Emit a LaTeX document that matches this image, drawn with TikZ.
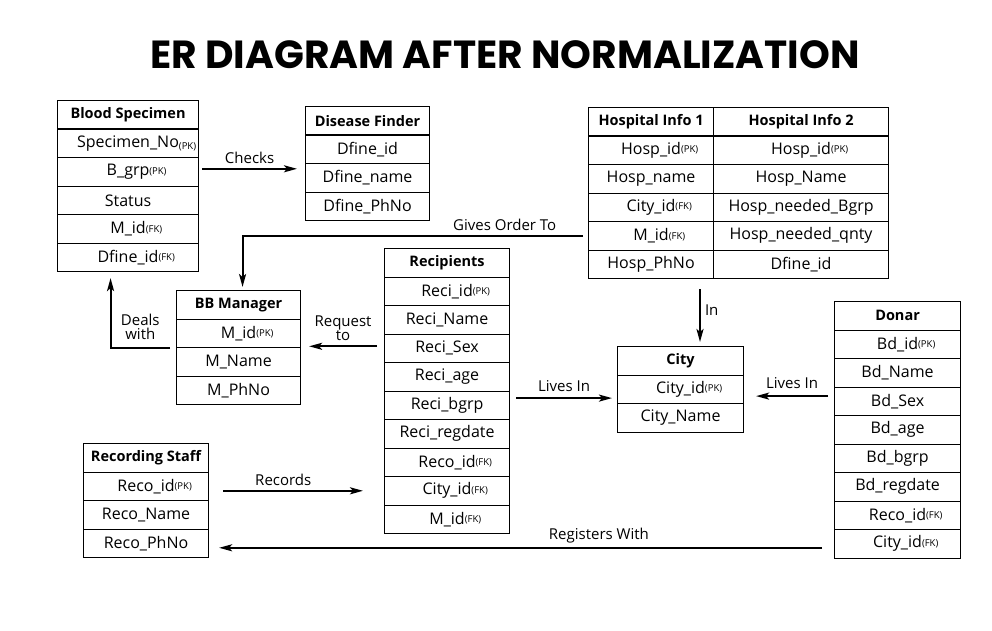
\documentclass[tikz,border=0pt]{standalone}
\usepackage{fontspec}
\setmainfont{Open Sans}
\newfontfamily\titlefont{Poppins}
\usetikzlibrary{arrows.meta}
\newcommand{\pk}[1]{\rlap{\raisebox{1.5pt}{\fontsize{9.5}{9.5}\selectfont(#1)}}}
\newcommand{\pkl}[1]{\rlap{\raisebox{-2.5pt}{\fontsize{9.5}{9.5}\selectfont(#1)}}}
\newcommand{\ertable}[6]{%
  \node[hdr, minimum width=#4pt, anchor=north west] (#1) at (#2,#3) {#5};
  \foreach \ftext [count=\i] in {#6}{%
    \node[fld, minimum width=#4pt, anchor=north west] (#1-\i) at (#2,{#3+\i*28.5}) {\ftext};
  }%
}
\tikzset{
  hdr/.style={draw, line width=1.1pt, minimum height=28.5pt, inner sep=0pt, font=\fontsize{14.5}{16}\selectfont\bfseries},
  fld/.style={draw, line width=1.1pt, minimum height=28.5pt, inner sep=0pt, font=\fontsize{16}{18}\selectfont},
  arr/.style={line width=2pt, -{Stealth[length=13pt,width=7pt,inset=3pt]}},
  lbl/.style={font=\fontsize{15}{15}\selectfont, inner sep=1pt},
}
\begin{document}
\begin{tikzpicture}[x=1pt,y=-1pt]
\useasboundingbox[fill=white] (0,0) rectangle (992,631);
\node[font=\titlefont\bfseries\fontsize{39.2}{42}\selectfont] (title) at (505,55) {ER DIAGRAM AFTER NORMALIZATION};

\ertable{bs}{57}{100}{141}{Blood Specimen}{Specimen\_No\pkl{PK},B\_grp\pk{PK},Status,M\_id\pk{FK},Dfine\_id\pk{FK}}
\ertable{df}{305}{106}{124}{Disease Finder}{Dfine\_id,Dfine\_name,Dfine\_PhNo}
\ertable{ha}{588}{107}{125}{Hospital Info 1}{Hosp\_id\pk{PK},Hosp\_name,City\_id\pk{FK},M\_id\pk{FK},Hosp\_PhNo}
\ertable{hb}{713}{107}{175}{Hospital Info 2}{Hosp\_id\pk{PK},Hosp\_Name,Hosp\_needed\_Bgrp,Hosp\_needed\_qnty,Dfine\_id}
\ertable{bb}{176}{290}{124}{BB Manager}{M\_id\pk{PK},M\_Name,M\_PhNo}
\ertable{re}{384}{248}{125}{Recipients}{Reci\_id\pk{PK},Reci\_Name,Reci\_Sex,Reci\_age,Reci\_bgrp,Reci\_regdate,Reco\_id\pk{FK},City\_id\pk{FK},M\_id\pk{FK}}
\ertable{ci}{617}{346}{126}{City}{City\_id\pk{PK},City\_Name}
\ertable{do}{834}{301}{126}{Donar}{Bd\_id\pk{PK},Bd\_Name,Bd\_Sex,Bd\_age,Bd\_bgrp,Bd\_regdate,Reco\_id\pk{FK},City\_id\pk{FK}}
\ertable{rs}{83}{443}{125}{Recording Staff}{Reco\_id\pk{PK},Reco\_Name,Reco\_PhNo}

% Checks
\draw[arr] ([xshift=3pt,yshift=3pt]bs-2.east) -- node[lbl, above=3pt] {Checks} ([xshift=-8pt,yshift=3pt]bs-2.east -| df.west);
% Gives Order To
\draw[arr] ([xshift=-5pt]ha-4.west) -- node[lbl, pos=0.23, above=3pt] {Gives Order To} ([xshift=4pt]bb.north |- ha-4.west) -- ([xshift=4pt,yshift=3pt]bb.north);
% Deals with
\draw[arr] ([xshift=-6pt]bb-1.south west) -- node[lbl, above=6pt, align=center, font=\fontsize{15}{14}\selectfont] {Deals\\with} ([xshift=-17.5pt]bs-5.south |- bb-1.south west) -- ([xshift=-17.5pt,yshift=-6pt]bs-5.south);
% Request to
\draw[arr] ([xshift=-7pt,yshift=2pt]re-3.west) -- node[lbl, above=4pt, align=center, font=\fontsize{15}{14}\selectfont] {Request\\to} ([xshift=8pt,yshift=2pt]re-3.west -| bb.east);
% Lives In (left)
\draw[arr] ([xshift=6pt,yshift=6pt]ci-1.south -| re.east) -- node[lbl, above=4pt] {Lives In} ([xshift=-5pt,yshift=6pt]ci-1.south west);
% Lives In (right)
\draw[arr] ([xshift=-6pt,yshift=8pt]ci-1.south -| do.west) -- node[lbl, above=5pt] {Lives In} ([xshift=12pt,yshift=8pt]ci-1.south east);
% In
\draw[arr] ([xshift=-13pt,yshift=-10pt]hb-5.south west) -- node[lbl, right=3pt, pos=0.4] {In} ([xshift=-13pt,yshift=4pt]hb-5.south west |- ci.north);
% Records
\draw[arr] ([xshift=14pt]re-8.west -| rs.east) -- node[lbl, above=3pt, pos=0.43] {Records} ([xshift=-21pt]re-8.west);
% Registers With
\draw[arr] ([xshift=-12pt,yshift=-4pt]do-8.west) -- node[lbl, above=3pt, pos=0.37] {Registers With} ([xshift=10pt,yshift=-4pt]do-8.west -| rs.east);
\end{tikzpicture}
\end{document}
